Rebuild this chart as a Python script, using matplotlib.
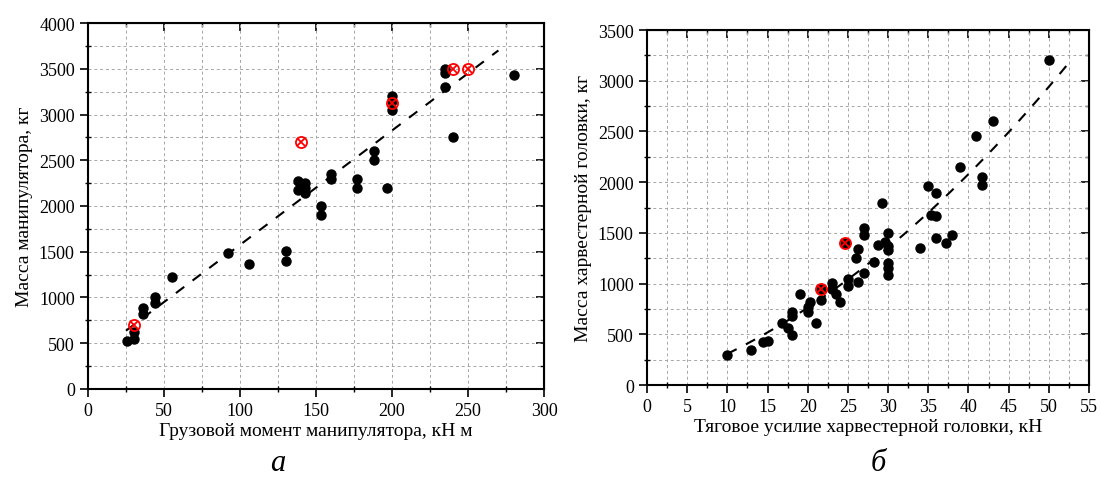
import numpy as np
import matplotlib
matplotlib.use('Agg')
import matplotlib.pyplot as plt
from matplotlib.ticker import MultipleLocator

plt.rcParams['font.family'] = ['Liberation Serif', 'DejaVu Serif']

# --- left panel (a): crane load moment vs crane mass
moment_x = [26, 30, 30, 36, 36, 44, 44, 55, 92, 106, 130, 130, 138, 138, 143, 143, 143,
            153, 153, 160, 160, 177, 177, 188, 188, 197, 200, 200, 200, 235, 235, 235, 240, 280]
moment_y = [525, 545, 625, 820, 890, 940, 1010, 1220, 1490, 1370, 1510, 1400, 2270, 2180,
            2250, 2200, 2140, 2000, 1900, 2350, 2300, 2300, 2200, 2600, 2500, 2200, 3200,
            3150, 3050, 3500, 3450, 3300, 2750, 3430]
moment_red_x = [30, 140, 200, 240, 250]
moment_red_y = [700, 2700, 3130, 3500, 3500]
trend_a = [12.5, 325]          # linear fit: y = k*x + b
trend_a_range = [25, 270]

# --- right panel (b): head feed force vs head mass
force_x = [10, 13, 14.5, 15, 16.8, 17.5, 18, 18, 18, 19, 20, 20.1, 20.3, 21, 21.6, 21.6,
           23, 23, 23.5, 24, 25, 25, 24.6, 26, 26.2, 26.3, 27, 27, 27, 28.3, 28.7, 29.2,
           29.6, 30, 30, 30, 30, 30, 30, 34, 35.4, 36, 36, 37.2, 38, 39, 41, 43, 41.7,
           41.7, 35, 36, 50]
force_y = [295, 345, 425, 435, 610, 560, 490, 720, 680, 895, 720, 770, 820, 615, 840, 950,
           1010, 950, 900, 820, 1045, 975, 1400, 1255, 1015, 1340, 1545, 1480, 1105, 1210,
           1380, 1790, 1410, 1375, 1335, 1500, 1205, 1150, 1080, 1350, 1680, 1665, 1450,
           1400, 1480, 2150, 2455, 2600, 2055, 1975, 1960, 1895, 3205]
force_red_x = [21.6, 24.6]
force_red_y = [950, 1400]
trend_b = [0.677, 25.2, -12]   # quadratic fit
trend_b_range = [10, 52.5]

fig = plt.figure(figsize=(11.01, 4.81), dpi=100, facecolor='w')


def style_axes(ax, xmaj, xmin_, ymaj, ymin_):
    ax.xaxis.set_major_locator(MultipleLocator(xmaj))
    ax.xaxis.set_minor_locator(MultipleLocator(xmin_))
    ax.yaxis.set_major_locator(MultipleLocator(ymaj))
    ax.yaxis.set_minor_locator(MultipleLocator(ymin_))
    ax.grid(which='both', color='#a6a6a6', linestyle=(0, (3, 3)), linewidth=0.7)
    ax.set_axisbelow(True)
    for s in ax.spines.values():
        s.set_linewidth(1.5)
    ax.tick_params(which='major', direction='out', length=6, width=1.2, labelsize=13)
    ax.tick_params(which='minor', direction='inout', length=5, width=1.0)
    # inward ticks on the top and right frame
    top = ax.secondary_xaxis('top')
    top.xaxis.set_major_locator(MultipleLocator(xmaj))
    top.xaxis.set_minor_locator(MultipleLocator(xmin_))
    top.tick_params(which='major', direction='in', length=6, width=1.2, labeltop=False)
    top.tick_params(which='minor', direction='in', length=3, width=1.0)
    right = ax.secondary_yaxis('right')
    right.yaxis.set_major_locator(MultipleLocator(ymaj))
    right.yaxis.set_minor_locator(MultipleLocator(ymin_))
    right.tick_params(which='major', direction='in', length=6, width=1.2, labelright=False)
    right.tick_params(which='minor', direction='in', length=3, width=1.0)


def draw_red(ax, xs, ys):
    ax.plot(xs, ys, linestyle='none', marker='o', markersize=8, markerfacecolor='none',
            markeredgecolor='red', markeredgewidth=1.3, zorder=4)
    ax.plot(xs, ys, linestyle='none', marker='x', markersize=5.5,
            markeredgecolor='red', markeredgewidth=1.3, zorder=4)


# left
ax1 = fig.add_axes([0.0799, 0.1892, 0.4142, 0.7609])
xt = np.linspace(trend_a_range[0], trend_a_range[1], 50)
ax1.plot(xt, np.polyval(trend_a, xt), color='k', linestyle=(0, (5, 5)), linewidth=1.5, zorder=2)
ax1.plot(moment_x, moment_y, linestyle='none', marker='o', markersize=6.5, color='k', zorder=3)
draw_red(ax1, moment_red_x, moment_red_y)
ax1.set_xlim(0, 300)
ax1.set_ylim(0, 4000)
style_axes(ax1, 50, 25, 500, 250)
ax1.set_xlabel('Грузовой момент манипулятора, кН м', fontsize=14, labelpad=2)
ax1.set_ylabel('Масса манипулятора, кг', fontsize=14, labelpad=4)

# right
ax2 = fig.add_axes([0.5876, 0.1975, 0.4015, 0.7380])
xt = np.linspace(trend_b_range[0], trend_b_range[1], 80)
ax2.plot(xt, np.polyval(trend_b, xt), color='k', linestyle=(0, (5, 5)), linewidth=1.5, zorder=2)
ax2.plot(force_x, force_y, linestyle='none', marker='o', markersize=6.5, color='k', zorder=3)
draw_red(ax2, force_red_x, force_red_y)
ax2.set_xlim(0, 55)
ax2.set_ylim(0, 3500)
style_axes(ax2, 5, 2.5, 500, 250)
ax2.set_xlabel('Тяговое усилие харвестерной головки, кН', fontsize=14, labelpad=2)
ax2.set_ylabel('Масса харвестерной головки, кг', fontsize=14, labelpad=4)

fig.text(0.252, 0.02, 'а', fontsize=22, style='italic', ha='center')
fig.text(0.798, 0.02, 'б', fontsize=22, style='italic', ha='center')

fig.savefig('out.png', dpi=100)
